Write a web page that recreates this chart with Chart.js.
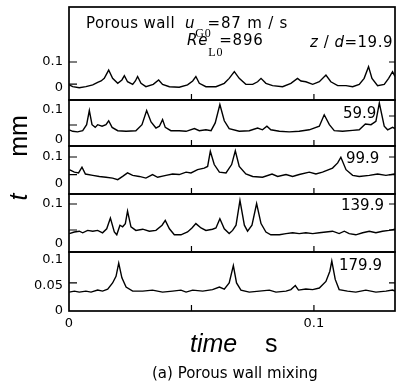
<!DOCTYPE html>
<html><head><meta charset="utf-8">
<script src="https://cdn.jsdelivr.net/npm/chart.js@4.4.0/dist/chart.umd.min.js"></script>
<style>
html,body{margin:0;padding:0;background:#fff;}
#wrap{position:relative;width:397px;height:388px;overflow:hidden;background:#fff;}
.pc{position:absolute;left:0;width:397px;}
.txt{position:absolute;white-space:nowrap;color:#000;font-family:'DejaVu Sans';font-size:15px;line-height:1;}
.sb{font-family:'Liberation Serif';font-size:12px;position:relative;}
.big{font-family:'Liberation Sans';font-size:25px;}
.rot{transform:translate(-50%,-50%) rotate(-90deg);}
</style></head><body>
<div id="wrap">
  <div class="txt" style="left:86px;top:16px;letter-spacing:0.4px;">Porous wall</div>
  <div class="txt" style="left:185px;top:15.5px;letter-spacing:0.8px;"><i>u</i><span class="sb" style="top:9.5px;margin-right:-4px;">G0</span>=87 m / s</div>
  <div class="txt" style="left:187px;top:32.5px;letter-spacing:0.8px;"><i>Re</i><span class="sb" style="top:11px;margin-right:-4px;">L0</span>=896</div>
  <div class="txt" id="lab0" style="left:310px;top:34.5px;letter-spacing:0.5px;"></div>
  <div class="txt" id="lab1" style="left:343px;top:105.5px;"></div>
  <div class="txt" id="lab2" style="left:346px;top:150.5px;"></div>
  <div class="txt" id="lab3" style="left:341px;top:197.5px;"></div>
  <div class="txt" id="lab4" style="left:339px;top:257.5px;"></div>
  <div class="txt big" style="left:190px;top:330.5px;font-style:italic;">time</div>
  <div class="txt big" style="left:265px;top:330.5px;">s</div>
  <div class="txt big rot" style="left:18.3px;top:136px;">mm</div>
  <div class="txt big rot" style="left:18.3px;top:197px;font-style:italic;">t</div>
  <div class="txt" style="left:152px;top:365.5px;">(a) Porous wall mixing</div>
</div>
<script>
// ---- data (time in s, film thickness t in mm, as plotted) ----
const timeMax = 0.1331;
const xTickValues = [0, 0.1];
const stationLabels = ['19.9', '59.9', '99.9', '139.9', '179.9'];
const yTickValues = [[0, 0.1], [0, 0.1], [0, 0.1], [0, 0.1], [0, 0.05, 0.1]];

const trace1 = [[0.0001,0.012],[0.0015,0.005],[0.0042,0.001],[0.0069,0.005],[0.0097,0.012],[0.0117,0.022],[0.0131,0.027],[0.0144,0.037],[0.0162,0.069],[0.0178,0.037],[0.0199,0.018],[0.0216,0.031],[0.0226,0.047],[0.0239,0.024],[0.0260,0.014],[0.0271,0.027],[0.0280,0.044],[0.0294,0.018],[0.0314,0.005],[0.0344,0.014],[0.0366,0.031],[0.0382,0.014],[0.0410,0.005],[0.0450,0.003],[0.0484,0.012],[0.0505,0.027],[0.0518,0.044],[0.0532,0.018],[0.0559,0.005],[0.0600,0.005],[0.0634,0.018],[0.0654,0.037],[0.0675,0.063],[0.0695,0.037],[0.0722,0.014],[0.0750,0.014],[0.0770,0.024],[0.0784,0.037],[0.0804,0.018],[0.0831,0.009],[0.0872,0.005],[0.0906,0.018],[0.0933,0.037],[0.0947,0.027],[0.0967,0.024],[0.0995,0.014],[0.1022,0.024],[0.1049,0.050],[0.1069,0.024],[0.1097,0.009],[0.1131,0.009],[0.1158,0.005],[0.1185,0.014],[0.1205,0.037],[0.1223,0.082],[0.1237,0.037],[0.1260,0.009],[0.1287,0.014],[0.1305,0.037],[0.1321,0.063],[0.1331,0.044]];

const trace2 = [[0.0001,0.034],[0.0015,0.029],[0.0035,0.027],[0.0056,0.031],[0.0072,0.051],[0.0083,0.098],[0.0094,0.051],[0.0107,0.042],[0.0117,0.051],[0.0135,0.046],[0.0151,0.051],[0.0162,0.064],[0.0176,0.042],[0.0199,0.031],[0.0233,0.029],[0.0273,0.031],[0.0298,0.051],[0.0317,0.098],[0.0335,0.060],[0.0355,0.040],[0.0369,0.046],[0.0382,0.068],[0.0393,0.042],[0.0416,0.031],[0.0450,0.031],[0.0478,0.029],[0.0512,0.038],[0.0532,0.031],[0.0559,0.034],[0.0580,0.031],[0.0597,0.057],[0.0616,0.118],[0.0634,0.064],[0.0654,0.038],[0.0695,0.029],[0.0736,0.031],[0.0770,0.040],[0.0790,0.034],[0.0808,0.046],[0.0824,0.034],[0.0859,0.029],[0.0899,0.027],[0.0940,0.029],[0.0981,0.034],[0.1022,0.046],[0.1042,0.084],[0.1063,0.051],[0.1083,0.031],[0.1117,0.029],[0.1158,0.032],[0.1185,0.034],[0.1210,0.053],[0.1233,0.051],[0.1253,0.062],[0.1267,0.123],[0.1287,0.046],[0.1301,0.034],[0.1321,0.042],[0.1331,0.038]];

const trace3 = [[0.0001,0.053],[0.0022,0.044],[0.0039,0.041],[0.0053,0.062],[0.0067,0.037],[0.0097,0.032],[0.0124,0.028],[0.0151,0.025],[0.0178,0.022],[0.0199,0.016],[0.0219,0.028],[0.0239,0.041],[0.0260,0.032],[0.0287,0.028],[0.0314,0.022],[0.0341,0.035],[0.0362,0.025],[0.0396,0.032],[0.0423,0.037],[0.0450,0.035],[0.0478,0.044],[0.0498,0.041],[0.0525,0.053],[0.0552,0.059],[0.0566,0.065],[0.0577,0.121],[0.0593,0.072],[0.0614,0.044],[0.0641,0.041],[0.0664,0.072],[0.0679,0.123],[0.0695,0.065],[0.0722,0.037],[0.0750,0.028],[0.0790,0.025],[0.0829,0.037],[0.0852,0.028],[0.0886,0.035],[0.0913,0.028],[0.0940,0.035],[0.0981,0.044],[0.1008,0.037],[0.1035,0.044],[0.1076,0.059],[0.1097,0.078],[0.1110,0.099],[0.1131,0.053],[0.1158,0.032],[0.1185,0.028],[0.1226,0.032],[0.1260,0.037],[0.1294,0.032],[0.1328,0.037],[0.1331,0.036]];

const trace4 = [[0.0001,0.026],[0.0022,0.030],[0.0042,0.032],[0.0056,0.028],[0.0076,0.034],[0.0097,0.032],[0.0117,0.034],[0.0137,0.028],[0.0154,0.038],[0.0169,0.065],[0.0185,0.030],[0.0195,0.023],[0.0208,0.047],[0.0219,0.043],[0.0230,0.051],[0.0239,0.082],[0.0253,0.043],[0.0273,0.034],[0.0301,0.037],[0.0328,0.032],[0.0355,0.034],[0.0380,0.047],[0.0393,0.059],[0.0410,0.038],[0.0430,0.023],[0.0457,0.023],[0.0484,0.030],[0.0502,0.040],[0.0518,0.051],[0.0539,0.040],[0.0559,0.034],[0.0586,0.037],[0.0600,0.040],[0.0616,0.063],[0.0634,0.038],[0.0654,0.026],[0.0668,0.034],[0.0682,0.047],[0.0698,0.109],[0.0716,0.047],[0.0729,0.032],[0.0747,0.047],[0.0766,0.101],[0.0784,0.051],[0.0804,0.030],[0.0824,0.023],[0.0859,0.023],[0.0886,0.026],[0.0913,0.028],[0.0940,0.026],[0.0967,0.028],[0.0995,0.026],[0.1022,0.028],[0.1049,0.030],[0.1076,0.032],[0.1103,0.026],[0.1124,0.032],[0.1144,0.026],[0.1171,0.023],[0.1199,0.028],[0.1226,0.032],[0.1253,0.028],[0.1280,0.032],[0.1307,0.034],[0.1331,0.037]];

const trace5 = [[0.0001,0.037],[0.0022,0.039],[0.0042,0.037],[0.0069,0.039],[0.0090,0.037],[0.0117,0.041],[0.0137,0.039],[0.0158,0.043],[0.0178,0.055],[0.0192,0.068],[0.0203,0.094],[0.0216,0.065],[0.0233,0.047],[0.0260,0.039],[0.0301,0.039],[0.0341,0.041],[0.0382,0.037],[0.0423,0.039],[0.0457,0.041],[0.0478,0.037],[0.0505,0.041],[0.0546,0.039],[0.0586,0.042],[0.0614,0.047],[0.0634,0.043],[0.0654,0.055],[0.0671,0.089],[0.0684,0.055],[0.0702,0.041],[0.0736,0.037],[0.0777,0.039],[0.0818,0.041],[0.0845,0.037],[0.0886,0.039],[0.0906,0.042],[0.0924,0.050],[0.0937,0.041],[0.0967,0.043],[0.0995,0.042],[0.1022,0.045],[0.1049,0.058],[0.1065,0.078],[0.1073,0.098],[0.1087,0.062],[0.1103,0.042],[0.1137,0.039],[0.1171,0.037],[0.1212,0.041],[0.1253,0.037],[0.1294,0.039],[0.1321,0.041],[0.1331,0.039]];

const traces = [trace1, trace2, trace3, trace4, trace5];

// ---- layout (pixels) ----
const panelBox = [[7,100],[100,146],[146,194],[194,252],[252,311]];
const yRanges = [[-0.0462,0.3115],[-0.02,0.1333],[-0.037,0.1407],[-0.02,0.125],[0,0.1157]];
const leftMarks = [[0.1,0.015],[0.05],[0.1,0.035],[0.1,0.035],[0.055]];
const rightMarks = [[0.1],[0.08],[0.1,0.035],[0.1,0.035],[0.055]];
const xMarks = [0.05, 0.1];

document.getElementById('lab0').innerHTML = '<i>z</i> / <i>d</i>=' + stationLabels[0];
for (let i = 1; i < 5; i++) document.getElementById('lab' + i).textContent = stationLabels[i];

const wrap = document.getElementById('wrap');
const PAD = 8, XAX = 24;

traces.forEach((tr, i) => {
  const last = i === traces.length - 1;
  const [top, bot] = panelBox[i];
  const h = PAD + (bot - top) + (last ? XAX : PAD);
  const div = document.createElement('div');
  div.className = 'pc';
  div.style.top = (top - PAD) + 'px';
  div.style.height = h + 'px';
  const cv = document.createElement('canvas');
  cv.width = 397; cv.height = h;
  cv.style.width = '397px'; cv.style.height = h + 'px';
  div.appendChild(cv);
  wrap.insertBefore(div, wrap.firstChild);

  const frame = {
    id: 'frame' + i,
    afterDatasetsDraw(chart) {
      const {ctx, chartArea: a, scales: {x, y}} = chart;
      ctx.save();
      ctx.strokeStyle = '#000';
      ctx.lineWidth = 1.7;
      ctx.strokeRect(a.left, a.top, a.right - a.left, a.bottom - a.top);
      ctx.lineWidth = 1.2;
      ctx.beginPath();
      leftMarks[i].forEach(v => { const p = y.getPixelForValue(v); ctx.moveTo(a.left, p); ctx.lineTo(a.left + 8, p); });
      rightMarks[i].forEach(v => { const p = y.getPixelForValue(v); ctx.moveTo(a.right, p); ctx.lineTo(a.right - 6, p); });
      xMarks.forEach(v => { const p = x.getPixelForValue(v); ctx.moveTo(p, a.bottom); ctx.lineTo(p, a.bottom - 6); });
      ctx.stroke();
      ctx.restore();
    }
  };

  new Chart(cv, {
    type: 'line',
    data: { datasets: [{
      data: tr.map(p => ({x: p[0], y: p[1]})),
      borderColor: '#000', borderWidth: 1.4, pointRadius: 0, tension: 0, fill: false
    }]},
    options: {
      responsive: false, animation: false,
      layout: { padding: { top: PAD, bottom: last ? 0 : PAD, left: 0, right: 2 } },
      plugins: { legend: { display: false }, tooltip: { enabled: false } },
      scales: {
        x: {
          type: 'linear', min: 0, max: timeMax, display: last,
          grid: { display: false, drawTicks: false }, border: { display: false },
          ticks: { font: { family: 'DejaVu Sans', size: 13 }, color: '#000', padding: 5, maxRotation: 0, autoSkip: false,
                   callback: v => String(v) },
          afterBuildTicks: s => { s.ticks = xTickValues.map(v => ({value: v})); },
          afterFit: s => { if (last) s.height = XAX; else s.height = 0; s.paddingLeft = 0; s.paddingRight = 0; }
        },
        y: {
          min: yRanges[i][0], max: yRanges[i][1],
          grid: { display: false, drawTicks: false }, border: { display: false },
          ticks: { font: { family: 'DejaVu Sans', size: 13 }, color: '#000', padding: 6, autoSkip: false,
                   callback: v => String(v) },
          afterBuildTicks: s => { s.ticks = yTickValues[i].map(v => ({value: v})); },
          afterFit: s => { s.width = 69; s.paddingTop = 0; s.paddingBottom = 0; }
        }
      }
    },
    plugins: [frame]
  });
});
</script>
</body></html>
